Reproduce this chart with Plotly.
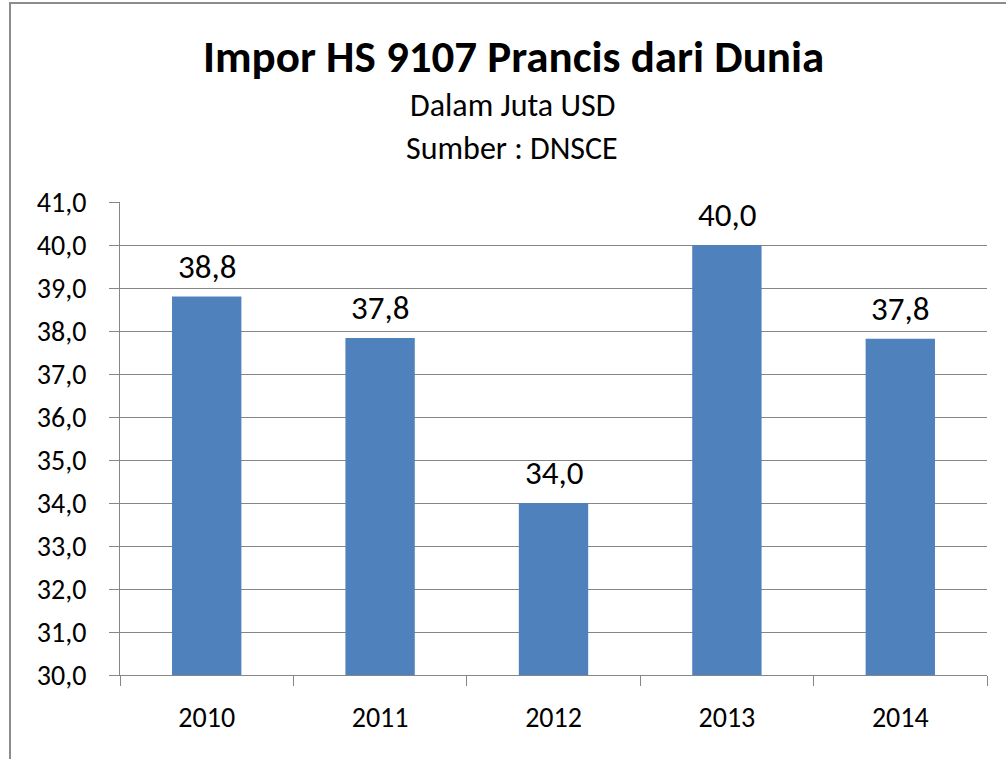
import plotly.graph_objects as go

years = ["2010", "2011", "2012", "2013", "2014"]
values = [38.8, 37.84, 34.0, 40.0, 37.82]
y_ticks = [30, 31, 32, 33, 34, 35, 36, 37, 38, 39, 40, 41]

FONT = "Carlito, Lato, sans-serif"
W, H = 1006, 759
L, R, T, B = 120, 19, 202, 84
pw, ph = W - L - R, H - T - B

def px(xp):
    return (xp - L) / pw

def py(yp):
    return (H - B - yp) / ph

fig = go.Figure()
fig.add_trace(go.Bar(
    x=years, y=values,
    marker=dict(color="#4F81BD", line=dict(width=0)),
    hoverinfo="skip",
))

for i, v in enumerate(values):
    fig.add_annotation(x=i, y=v, xref="x", yref="y", text=f"{v:.1f}".replace(".", ","),
                       showarrow=False, yanchor="bottom", yshift=8,
                       font=dict(family=FONT, size=33, color="#000000"))

fig.add_annotation(x=px(513), y=py(56), xref="paper", yref="paper",
                   xanchor="center", yanchor="middle",
                   text="<b>Impor HS 9107 Prancis dari Dunia</b>", showarrow=False,
                   font=dict(family=FONT, size=45, color="#000000"))
fig.add_annotation(x=px(512), y=py(106), xref="paper", yref="paper",
                   xanchor="center", yanchor="middle",
                   text="Dalam Juta USD", showarrow=False,
                   font=dict(family=FONT, size=32, color="#000000"))
fig.add_annotation(x=px(512), y=py(148), xref="paper", yref="paper",
                   xanchor="center", yanchor="middle",
                   text="Sumber : DNSCE", showarrow=False,
                   font=dict(family=FONT, size=32, color="#000000"))

# outer chart frame (partially cut off at right and bottom)
fig.add_shape(type="rect", xref="paper", yref="paper",
              x0=px(10), y0=py(800), x1=px(1050), y1=py(3),
              line=dict(color="#8C8C8C", width=2), fillcolor="rgba(0,0,0,0)", layer="below")

fig.update_layout(
    width=W, height=H,
    margin=dict(l=L, r=R, t=T, b=B),
    paper_bgcolor="white", plot_bgcolor="white",
    separators=",.",
    bargap=0.6,
    showlegend=False,
    font=dict(family=FONT, color="#000000"),
)
fig.update_xaxes(
    type="category",
    range=[-0.5, 4.5],
    showgrid=False,
    showline=True, linecolor="#868686", linewidth=1,
    ticks="outside", ticklen=10, tickcolor="#868686", tickson="boundaries",
    tickfont=dict(family=FONT, size=28, color="#000000"),
    ticklabelstandoff=17,
)
fig.update_yaxes(
    range=[30, 41],
    tickvals=y_ticks, tickformat=".1f",
    showgrid=True, gridcolor="#868686", gridwidth=1,
    showline=True, linecolor="#868686", linewidth=1,
    ticks="outside", ticklen=10, tickcolor="#868686",
    tickfont=dict(family=FONT, size=28, color="#000000"),
    ticklabelstandoff=17,
    zeroline=False,
)

fig.write_html("out.html", config={"displayModeBar": False},
               post_script="document.body.style.margin='0px';")
